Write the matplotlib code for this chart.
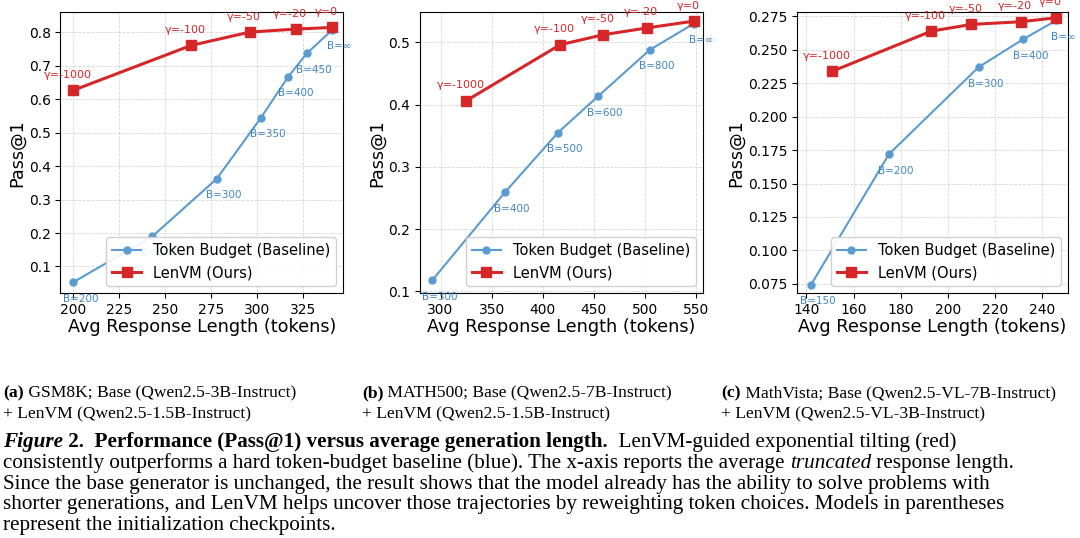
import matplotlib
matplotlib.use("Agg")
import matplotlib.pyplot as plt

# panel data
gsm_base_x = [200, 243, 278, 302, 317, 327, 341]
gsm_base_y = [0.053, 0.190, 0.362, 0.544, 0.668, 0.737, 0.808]
gsm_base_lbl = ["B=200", "B=250", "B=300", "B=350", "B=400", "B=450", "B=∞"]
gsm_vm_x = [200, 264, 296, 321, 341]
gsm_vm_y = [0.627, 0.761, 0.801, 0.810, 0.815]

math_base_x = [292, 363, 415, 454, 505, 548]
math_base_y = [0.118, 0.259, 0.355, 0.413, 0.488, 0.530]
math_base_lbl = ["B=300", "B=400", "B=500", "B=600", "B=800", "B=∞"]
math_vm_x = [325, 417, 459, 502, 548]
math_vm_y = [0.406, 0.496, 0.512, 0.523, 0.534]

vis_base_x = [142, 175, 213, 232, 246]
vis_base_y = [0.0745, 0.172, 0.237, 0.258, 0.272]
vis_base_lbl = ["B=150", "B=200", "B=300", "B=400", "B=∞"]
vis_vm_x = [151, 193, 210, 231, 246]
vis_vm_y = [0.234, 0.264, 0.269, 0.271, 0.274]

gamma_lbl = ["γ=-1000", "γ=-100", "γ=-50", "γ=-20", "γ=0"]

BLUE = "#5b9bd0"
BLUE_TXT = "#3d85c6"
RED = "#d62728"

fig = plt.figure(figsize=(10.8, 5.38), dpi=100)
panels = [
    (0.056, 0.262, gsm_base_x, gsm_base_y, gsm_base_lbl, gsm_vm_x, gsm_vm_y,
     (193, 347), (0.02, 0.86), [200, 225, 250, 275, 300, 325], [0.1, 0.2, 0.3, 0.4, 0.5, 0.6, 0.7, 0.8], "%.1f"),
    (0.389, 0.262, math_base_x, math_base_y, math_base_lbl, math_vm_x, math_vm_y,
     (280, 557), (0.097, 0.548), [300, 350, 400, 450, 500, 550], [0.1, 0.2, 0.3, 0.4, 0.5], "%.1f"),
    (0.738, 0.251, vis_base_x, vis_base_y, vis_base_lbl, vis_vm_x, vis_vm_y,
     (136, 251), (0.068, 0.278), [140, 160, 180, 200, 220, 240],
     [0.075, 0.1, 0.125, 0.15, 0.175, 0.2, 0.225, 0.25, 0.275], "%.3f"),
]

for left, w, bx, by, bl, rx, ry, xl, yl, xt, yt, fmt in panels:
    ax = fig.add_axes([left, 0.455, w, 0.522])
    ax.plot(bx, by, "-o", color=BLUE, lw=1.5, ms=5, label="Token Budget (Baseline)")
    ax.plot(rx, ry, "-s", color=RED, lw=2.2, ms=7, label="LenVM (Ours)")
    for x, y, t in zip(bx, by, bl):
        ax.annotate(t, (x, y), xytext=(5, -14), textcoords="offset points",
                    ha="center", fontsize=7.5, color=BLUE_TXT)
    for x, y, t in zip(rx, ry, gamma_lbl):
        ax.annotate(t, (x, y), xytext=(-4, 9), textcoords="offset points",
                    ha="center", fontsize=8, color=RED)
    ax.set_xlim(*xl)
    ax.set_ylim(*yl)
    ax.set_xticks(xt)
    ax.set_yticks(yt)
    ax.set_yticklabels([fmt % v for v in yt])
    ax.tick_params(labelsize=10)
    ax.grid(True, linestyle="--", linewidth=0.6, alpha=0.5)
    ax.set_xlabel("Avg Response Length (tokens)", fontsize=12.7, labelpad=1)
    ax.set_ylabel("Pass@1", fontsize=12.7, labelpad=2)
    leg = ax.legend(loc="lower right", fontsize=10.5, framealpha=0.9)
    leg.set_zorder(10)

# sub-captions
serif = "Liberation Serif"
subs = [
    (0.003, "(a)", " GSM8K; Base (Qwen2.5-3B-Instruct)", "+ LenVM (Qwen2.5-1.5B-Instruct)"),
    (0.335, "(b)", " MATH500; Base (Qwen2.5-7B-Instruct)", "+ LenVM (Qwen2.5-1.5B-Instruct)"),
    (0.668, "(c)", " MathVista; Base (Qwen2.5-VL-7B-Instruct)", "+ LenVM (Qwen2.5-VL-3B-Instruct)"),
]
fig.canvas.draw()
renderer = fig.canvas.get_renderer()


def runs(x, y, parts, size=15.2):
    """Draw text pieces one after another on a line."""
    for txt, weight, style in parts:
        t = fig.text(x, y, txt, fontsize=size, family=serif, weight=weight, style=style, va="baseline")
        bb = t.get_window_extent(renderer)
        x += bb.width / fig.bbox.width


for x, a, l1, l2 in subs:
    runs(x, 0.262, [(a, "bold", "normal"), (l1, "normal", "normal")], size=12.6)
    fig.text(x, 0.222, l2, fontsize=12.6, family=serif, va="baseline")

lines = [
    [("Figure", "bold", "italic"), (" 2.", "bold", "normal"),
     ("  Performance (Pass@1) versus average generation length.", "bold", "normal"),
     ("  LenVM-guided exponential tilting (red)", "normal", "normal")],
    [("consistently outperforms a hard token-budget baseline (blue). The x-axis reports the average ", "normal", "normal"),
     ("truncated", "normal", "italic"), (" response length.", "normal", "normal")],
    [("Since the base generator is unchanged, the result shows that the model already has the ability to solve problems with", "normal", "normal")],
    [("shorter generations, and LenVM helps uncover those trajectories by reweighting token choices. Models in parentheses", "normal", "normal")],
    [("represent the initialization checkpoints.", "normal", "normal")],
]
y = 0.170
for parts in lines:
    runs(0.003, y, parts)
    y -= 0.039

fig.savefig("out.png", dpi=100)
